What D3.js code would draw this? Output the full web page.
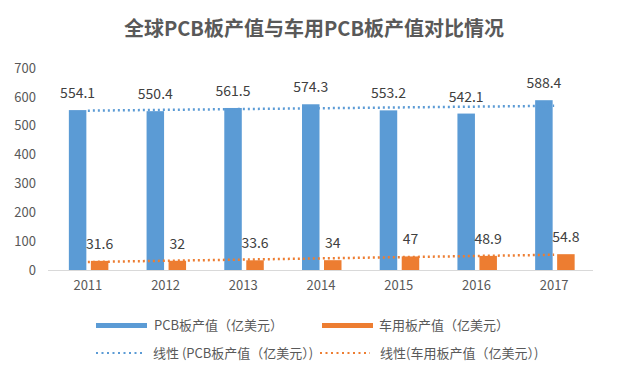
<!DOCTYPE html>
<html><head><meta charset="utf-8">
<script src="https://cdn.jsdelivr.net/npm/d3@7"></script>
<style>body{margin:0;background:#fff}svg{display:block}</style>
</head><body>
<svg id="c" width="628" height="375"></svg>
<script>
const years = ["2011","2012","2013","2014","2015","2016","2017"];
const pcbValues = [554.1, 550.4, 561.5, 574.3, 553.2, 542.1, 588.4];
const carValues = [31.6, 32, 33.6, 34, 47, 48.9, 54.8];
const yTicks = [0,100,200,300,400,500,600,700];
const title = "全球PCB板产值与车用PCB板产值对比情况";
const pcbName = "PCB板产值（亿美元）";
const carName = "车用板产值（亿美元）";
const pcbTrendName = "线性 (PCB板产值（亿美元）)";
const carTrendName = "线性(车用板产值（亿美元）)";

const blue = "#5B9BD5", orange = "#ED7D31", txt = "#595959";
const font = "'Noto Sans CJK SC','Noto Sans',sans-serif";
const svg = d3.select("#c");

const x = d3.scaleBand().domain(years).range([49, 593]);
const y = d3.scaleLinear().domain([0, 700]).range([270, 68]);
const cx = d => x(d) + x.bandwidth()/2;
const bw = 17.5;

svg.append("text").attr("x", 314).attr("y", 36).attr("text-anchor","middle")
  .attr("font-family", font).attr("font-size", 20).attr("font-weight", "bold")
  .attr("fill", txt).text(title);

// y axis labels
const ya = svg.append("g").attr("transform","translate(36,0)")
  .call(d3.axisLeft(y).tickValues(yTicks).tickSize(0).tickPadding(0));
ya.select(".domain").remove();
ya.selectAll("text").attr("font-family", font).attr("font-size", 13).attr("fill", txt);

// x axis
const xa = svg.append("g").attr("transform","translate(0,270)")
  .call(d3.axisBottom(x).tickSize(0).tickPadding(11));
xa.select(".domain").attr("stroke","#d9d9d9").attr("d","M48,0.5H593");
xa.selectAll("text").attr("font-family", font).attr("font-size", 13).attr("fill", txt);

// bars
svg.append("g").selectAll("rect").data(years).join("rect")
  .attr("x", d => cx(d) - 19).attr("width", bw)
  .attr("y", (d,i) => y(pcbValues[i])).attr("height", (d,i) => y(0) - y(pcbValues[i]))
  .attr("fill", blue);
svg.append("g").selectAll("rect").data(years).join("rect")
  .attr("x", d => cx(d) + 3).attr("width", bw)
  .attr("y", (d,i) => y(carValues[i])).attr("height", (d,i) => y(0) - y(carValues[i]))
  .attr("fill", orange);

// linear trendlines (least squares like Excel)
function fit(vals){
  const n = vals.length, xs = vals.map((v,i)=>i+1);
  const mx = d3.mean(xs), my = d3.mean(vals);
  let sxy=0, sxx=0;
  xs.forEach((xx,i)=>{sxy+=(xx-mx)*(vals[i]-my); sxx+=(xx-mx)*(xx-mx);});
  const b = sxy/sxx, a = my - b*mx;
  return xs.map(xx => a + b*xx);
}
const line = d3.line().x((d,i)=>cx(years[i])).y(d=>y(d));
svg.append("path").attr("d", line(fit(pcbValues))).attr("fill","none")
  .attr("stroke", blue).attr("stroke-width", 2.5).attr("stroke-dasharray","2,3");
svg.append("path").attr("d", line(fit(carValues))).attr("fill","none")
  .attr("stroke", orange).attr("stroke-width", 2.5).attr("stroke-dasharray","2,3");

// value labels
svg.append("g").selectAll("text").data(years).join("text")
  .attr("x", d => cx(d) - 19 + bw/2).attr("y", (d,i) => y(pcbValues[i]) - 12)
  .attr("text-anchor","middle").attr("font-family", font).attr("font-size", 14)
  .attr("fill", "#404040").text((d,i)=>pcbValues[i]);
svg.append("g").selectAll("text").data(years).join("text")
  .attr("x", d => cx(d) + 3 + bw/2).attr("y", (d,i) => y(carValues[i]) - 12)
  .attr("text-anchor","middle").attr("font-family", font).attr("font-size", 14)
  .attr("fill", "#404040").text((d,i)=>carValues[i]);

// legend
const lg = svg.append("g").attr("font-family", font).attr("font-size", 13).attr("fill", txt);
lg.append("rect").attr("x",96).attr("y",323).attr("width",51).attr("height",5).attr("fill",blue);
lg.append("text").attr("x",154).attr("y",330).text(pcbName);
lg.append("rect").attr("x",322).attr("y",323).attr("width",51).attr("height",5).attr("fill",orange);
lg.append("text").attr("x",379).attr("y",330).text(carName);
lg.append("line").attr("x1",96).attr("x2",144).attr("y1",353).attr("y2",353)
  .attr("stroke",blue).attr("stroke-width",2).attr("stroke-dasharray","2,3.5");
lg.append("text").attr("x",153).attr("y",358).text(pcbTrendName);
lg.append("line").attr("x1",320).attr("x2",370).attr("y1",353).attr("y2",353)
  .attr("stroke",orange).attr("stroke-width",2).attr("stroke-dasharray","2,3.5");
lg.append("text").attr("x",380).attr("y",358).text(carTrendName);
</script>
</body></html>
